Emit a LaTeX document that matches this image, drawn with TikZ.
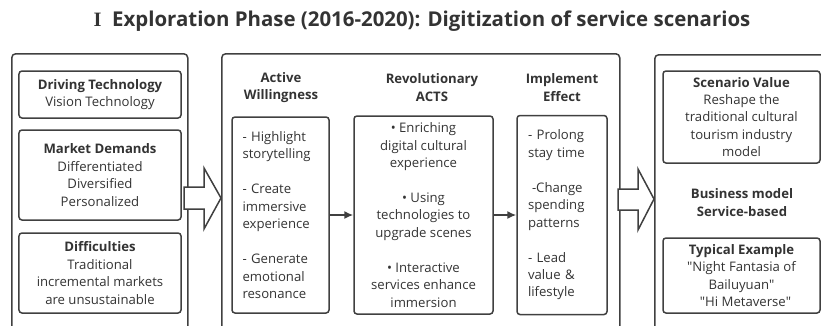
\documentclass[tikz,border=0pt]{standalone}
\usepackage{fontspec}
\setmainfont{Open Sans}
\newfontfamily\numeralfont{Liberation Serif}
\usetikzlibrary{calc,positioning,arrows.meta}

\definecolor{linegray}{HTML}{404040}
\definecolor{textgray}{HTML}{333333}

\begin{document}
\begin{tikzpicture}[x=1bp, y=-1bp,
  every node/.style={text=textgray, font=\fontsize{13.2}{17.5}\selectfont},
  frame/.style={draw=linegray, line width=1.5bp, rounded corners=4bp, inner sep=0pt},
  box/.style={draw=linegray, line width=1.5bp, rounded corners=3bp, inner xsep=10bp, inner ysep=0pt},
  head/.style={font=\fontsize{13.2}{17.5}\selectfont\bfseries, align=center},
  flow/.style={draw=linegray, line width=1.5bp, -{Latex[length=9bp,width=8bp]}},
  hollow/.style={draw=linegray, line width=1.5bp, fill=white, line join=miter}
]

  % Parameters
  \def\gap{17.5bp}      % blank line between items
  \def\q{\textquotedbl} % straight double quote

  \useasboundingbox (0,0) rectangle (821,325);

  % Title
  \node[font=\fontsize{20.5}{24}\selectfont\bfseries] (title) at (422,21)
    {{\numeralfont\bfseries I}\ \ Exploration Phase (2016-2020): Digitization of service scenarios};

  % Three outer frames (they run past the bottom edge)
  \node[frame, anchor=north west, minimum width=176bp, minimum height=290bp] (drivers) at (11,53) {};
  \node[frame, anchor=north west, minimum width=398bp, minimum height=290bp] (process) at (221,53) {};
  \node[frame, anchor=north west, minimum width=180bp, minimum height=290bp] (outcome) at (654,54) {};

  % Left column
  \node[box, minimum width=162bp, minimum height=47bp, align=center] (tech) at (100,94.5)
    {\textbf{Driving Technology}\\Vision Technology};
  \node[box, minimum width=162bp, minimum height=90bp, align=center] (demand) at (100,175)
    {\textbf{Market Demands}\\Differentiated\\Diversified\\Personalized};
  \node[box, minimum width=162bp, minimum height=80bp, align=center] (difficult) at (100,273)
    {\textbf{Difficulties}\\Traditional\\incremental markets\\are unsustainable};

  % Middle column: headings
  \node[head] (willhead) at (281,87.5) {Active\\Willingness};
  \node[head] (actshead) at (432,87.5) {Revolutionary\\ACTS};
  \node[head] (effecthead) at (562,87.5) {Implement\\Effect};

  % Middle column: boxes
  \node[box, minimum width=97bp, minimum height=196bp, text width=76bp, align=left] (will) at (280.5,215)
    {- Highlight\\storytelling\\[\gap]- Create\\immersive\\experience\\[\gap]- Generate\\emotional\\resonance};
  \node[box, minimum width=139bp, minimum height=198bp, align=center] (acts) at (423.5,215)
    {\textbullet{} Enriching\\digital cultural\\experience\\[\gap]\textbullet{} Using\\technologies to\\upgrade scenes\\[\gap]\textbullet{} Interactive\\services enhance\\immersion};
  \node[box, minimum width=90bp, minimum height=199bp, text width=68bp, align=left] (effect) at (562,215)
    {- Prolong\\stay time\\[\gap]\hspace*{4bp}-Change\\spending\\patterns\\[\gap]- Lead\\value \&\\lifestyle};

  \draw[flow] (will.east) -- (acts.west);
  \draw[flow] (acts.east) -- (effect.west);

  % Right column
  \node[box, minimum width=157bp, minimum height=92bp, align=center] (value) at (741.5,117)
    {\textbf{Scenario Value}\\Reshape the\\traditional cultural\\tourism industry\\model};
  \node[head] (model) at (742,202.5) {Business model\\Service-based};
  \node[box, minimum width=157bp, minimum height=75bp, align=center] (example) at (741.5,275.5)
    {\textbf{Typical Example}\\\q Night Fantasia of\\Bailuyuan\q\\\hspace*{8bp}\q Hi Metaverse\q};

  % Hollow block arrows between the frames
  \coordinate (tipA) at (221,198);
  \draw[hollow] (184,187) -- (204,187) -- (204,168) -- (tipA)
    -- (204,229) -- (204,209) -- (184,209) -- cycle;

  \coordinate (tipB) at (654,199);
  \draw[hollow] (618,189) -- (638,189) -- (638,169) -- (tipB)
    -- (638,230) -- (638,210) -- (618,210) -- cycle;

\end{tikzpicture}
\end{document}
